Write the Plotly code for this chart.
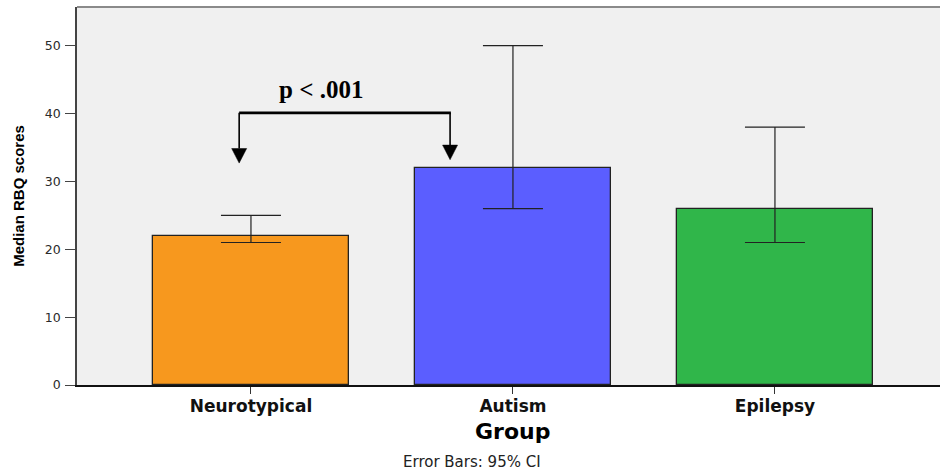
import plotly.graph_objects as go

# Median RBQ scores by group, with 95% CI bounds
groups = ["Neurotypical", "Autism", "Epilepsy"]
medians = [22, 32, 26]
ci_low = [21, 26, 21]
ci_high = [25, 50, 38]
bar_colors = ["#F7981E", "#5B5EFF", "#30B64A"]

y_ticks = [0, 10, 20, 30, 40, 50]

# significance bracket between the first two groups
sig_label = "p < .001"
sig_pair = (0, 1)
sig_level = 40.1
arrow_tips = [32.7, 33.2]

fig = go.Figure()

fig.add_trace(go.Bar(
    x=list(range(len(groups))),
    y=medians,
    width=0.748,
    marker=dict(color=bar_colors, line=dict(color="#222222", width=1.3)),
    error_y=dict(
        type="data",
        symmetric=False,
        array=[h - m for h, m in zip(ci_high, medians)],
        arrayminus=[m - l for m, l in zip(medians, ci_low)],
        color="#222222",
        thickness=1.2,
        width=30,
    ),
    hoverinfo="skip",
    showlegend=False,
))

# bracket: horizontal bar plus two downward arrows
x_left = sig_pair[0] - 0.045
x_right = sig_pair[1] - 0.240
fig.add_shape(type="line", x0=x_left, x1=x_right + 0.003, y0=sig_level, y1=sig_level,
              line=dict(color="#000000", width=2.6))
head_hw = 0.0286   # half width of arrowhead (data units)
head_h = 2.15      # arrowhead height (data units)
for xp, tip in zip([x_left, x_right], arrow_tips):
    fig.add_shape(type="line", x0=xp, x1=xp, y0=sig_level, y1=tip + head_h,
                  line=dict(color="#000000", width=1.6))
    fig.add_shape(
        type="path",
        path=f"M {xp - head_hw} {tip + head_h} L {xp + head_hw} {tip + head_h} L {xp} {tip} Z",
        fillcolor="#000000", line=dict(color="#000000", width=0.5),
    )

fig.add_annotation(x=0.267, y=43.6, xref="x", yref="y", text=f"<b>{sig_label}</b>",
                   showarrow=False,
                   font=dict(family="Liberation Serif, Times New Roman, serif", size=25, color="#000000"))

# frame line along the top of the plot area
fig.add_shape(type="line", xref="paper", yref="paper", x0=0, x1=1, y0=1, y1=1,
              line=dict(color="#8a8a8a", width=2))

# axis titles and footnote
fig.add_annotation(x=0.505, y=-0.124, xref="paper", yref="paper", text="<b>Group</b>",
                   showarrow=False, yanchor="middle",
                   font=dict(family="DejaVu Sans, Arial, sans-serif", size=22, color="#000000"))
fig.add_annotation(x=0.458, y=-0.204, xref="paper", yref="paper", text="Error Bars: 95% CI",
                   showarrow=False, yanchor="middle",
                   font=dict(family="DejaVu Sans, Arial, sans-serif", size=15, color="#222222"))

fig.update_layout(
    width=940, height=470,
    margin=dict(l=77, r=0, t=7, b=85),
    paper_bgcolor="#ffffff",
    plot_bgcolor="#f0f0f0",
    bargap=0,
)

fig.update_xaxes(
    range=[-0.664, 2.63],
    tickmode="array",
    tickvals=list(range(len(groups))),
    ticktext=[f"<b>{g}</b>" for g in groups],
    tickfont=dict(family="DejaVu Sans, Arial, sans-serif", size=17, color="#111111"),
    ticks="outside", ticklen=7, tickcolor="#333333", tickwidth=1,
    ticklabelstandoff=-2,
    showline=True, linecolor="#111111", linewidth=1.5,
    showgrid=False, zeroline=False,
)

fig.update_yaxes(
    range=[0, 55.7],
    tickmode="array",
    tickvals=y_ticks,
    tickfont=dict(family="DejaVu Sans, Arial, sans-serif", size=12.5, color="#2a2a2a"),
    ticks="outside", ticklen=10, tickcolor="#444444", tickwidth=1,
    ticklabelstandoff=2,
    showline=True, linecolor="#444444", linewidth=1.8,
    showgrid=False, zeroline=False,
    title=dict(text="<b>Median RBQ scores</b>",
               font=dict(family="Liberation Sans Narrow, Arial Narrow, Arial, sans-serif",
                         size=15, color="#000000"),
               standoff=16),
)

fig.write_html("out.html")
